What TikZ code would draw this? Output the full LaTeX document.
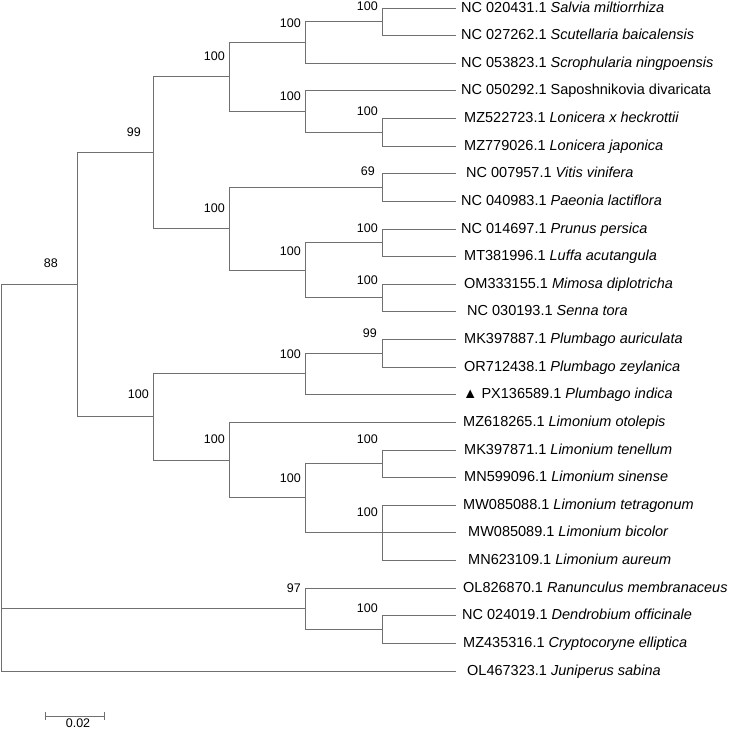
\documentclass[tikz,border=0pt]{standalone}
\usepackage{fontspec}
\setmainfont{Liberation Sans}
\usetikzlibrary{positioning}
\definecolor{branchgray}{RGB}{112,112,112}
\tikzset{
	branch/.style={draw=branchgray, line width=1pt},
	boot/.style={font=\fontsize{12.5}{14}\selectfont, inner sep=0pt},
	taxon/.style={anchor=base west, font=\fontsize{14.5}{16}\selectfont, inner sep=0pt}
}
\begin{document}
\begin{tikzpicture}[x=1pt,y=-1pt]
	\useasboundingbox (0,0) rectangle (729,729);
	% tips
	\coordinate (t1) at (456,8);
	\coordinate (t2) at (456,35);
	\coordinate (t3) at (456,63);
	\coordinate (t4) at (456,90);
	\coordinate (t5) at (456,118);
	\coordinate (t6) at (456,146);
	\coordinate (t7) at (456,173);
	\coordinate (t8) at (456,201);
	\coordinate (t9) at (456,229);
	\coordinate (t10) at (456,256);
	\coordinate (t11) at (456,284);
	\coordinate (t12) at (456,311);
	\coordinate (t13) at (456,339);
	\coordinate (t14) at (456,367);
	\coordinate (t15) at (456,394);
	\coordinate (t16) at (456,422);
	\coordinate (t17) at (456,450);
	\coordinate (t18) at (456,477);
	\coordinate (t19) at (456,505);
	\coordinate (t20) at (456,532);
	\coordinate (t21) at (456,560);
	\coordinate (t22) at (456,588);
	\coordinate (t23) at (456,615);
	\coordinate (t24) at (456,643);
	\coordinate (t25) at (456,671);
	% inner nodes
	\coordinate (root) at (1,284.6);
	\coordinate (n1) at (382,21.5);
	\coordinate (n2) at (305,42.2);
	\coordinate (n3) at (382,132);
	\coordinate (n4) at (305,111);
	\coordinate (n5) at (229,76.6);
	\coordinate (n6) at (382,187);
	\coordinate (n7) at (382,242.5);
	\coordinate (n8) at (382,297.5);
	\coordinate (n9) at (305,270);
	\coordinate (n10) at (229,228.5);
	\coordinate (n11) at (153,152.6);
	\coordinate (n12) at (382,353);
	\coordinate (n13) at (305,373.5);
	\coordinate (n14) at (382,463.5);
	\coordinate (n15) at (382,532);
	\coordinate (n16) at (305,497.8);
	\coordinate (n17) at (229,460);
	\coordinate (n18) at (153,416.7);
	\coordinate (n19) at (77,284.6);
	\coordinate (n20) at (382,629);
	\coordinate (n21) at (305,608);
	% branches
	\draw[branch] (n1) |- (t1);
	\draw[branch] (n1) |- (t2);
	\draw[branch] (n2) |- (n1);
	\draw[branch] (n2) |- (t3);
	\draw[branch] (n3) |- (t5);
	\draw[branch] (n3) |- (t6);
	\draw[branch] (n4) |- (t4);
	\draw[branch] (n4) |- (n3);
	\draw[branch] (n5) |- (n2);
	\draw[branch] (n5) |- (n4);
	\draw[branch] (n6) |- (t7);
	\draw[branch] (n6) |- (t8);
	\draw[branch] (n7) |- (t9);
	\draw[branch] (n7) |- (t10);
	\draw[branch] (n8) |- (t11);
	\draw[branch] (n8) |- (t12);
	\draw[branch] (n9) |- (n7);
	\draw[branch] (n9) |- (n8);
	\draw[branch] (n10) |- (n6);
	\draw[branch] (n10) |- (n9);
	\draw[branch] (n11) |- (n5);
	\draw[branch] (n11) |- (n10);
	\draw[branch] (n12) |- (t13);
	\draw[branch] (n12) |- (t14);
	\draw[branch] (n13) |- (n12);
	\draw[branch] (n13) |- (t15);
	\draw[branch] (n14) |- (t17);
	\draw[branch] (n14) |- (t18);
	\draw[branch] (n15) |- (t19);
	\draw[branch] (n15) |- (t20);
	\draw[branch] (n15) |- (t21);
	\draw[branch] (n16) |- (n14);
	\draw[branch] (n16) |- (n15);
	\draw[branch] (n17) |- (t16);
	\draw[branch] (n17) |- (n16);
	\draw[branch] (n18) |- (n13);
	\draw[branch] (n18) |- (n17);
	\draw[branch] (n19) |- (n11);
	\draw[branch] (n19) |- (n18);
	\draw[branch] (n20) |- (t23);
	\draw[branch] (n20) |- (t24);
	\draw[branch] (n21) |- (t22);
	\draw[branch] (n21) |- (n20);
	\draw[branch] (root) |- (n19);
	\draw[branch] (root) |- (n21);
	\draw[branch] (root) |- (t25);
	% bootstrap values
	\node[boot, above left=11pt and 4pt of n1] (b1) {100};
	\node[boot, above left=14.5pt and 4pt of n2] (b2) {100};
	\node[boot, above left=16.5pt and 4pt of n3] (b3) {100};
	\node[boot, above left=10.5pt and 4pt of n4] (b4) {100};
	\node[boot, above left=16pt and 4pt of n5] (b5) {100};
	\node[boot, above left=11.5pt and 7pt of n6] (b6) {69};
	\node[boot, above left=10pt and 4pt of n7] (b7) {100};
	\node[boot, above left=13pt and 4pt of n8] (b8) {100};
	\node[boot, above left=14.5pt and 4pt of n9] (b9) {100};
	\node[boot, above left=16pt and 4pt of n10] (b10) {100};
	\node[boot, above left=16pt and 12pt of n11] (b11) {99};
	\node[boot, above left=15.5pt and 5pt of n12] (b12) {99};
	\node[boot, above left=15pt and 4pt of n13] (b13) {100};
	\node[boot, above left=20pt and 4pt of n14] (b14) {100};
	\node[boot, above left=15.5pt and 4pt of n15] (b15) {100};
	\node[boot, above left=15pt and 4pt of n16] (b16) {100};
	\node[boot, above left=16.5pt and 4pt of n17] (b17) {100};
	\node[boot, above left=18pt and 4pt of n18] (b18) {100};
	\node[boot, above left=17pt and 19pt of n19] (b19) {88};
	\node[boot, above left=16.5pt and 4pt of n20] (b20) {100};
	\node[boot, above left=15.5pt and 4pt of n21] (b21) {97};
	% taxon names
	\node[taxon] (l1) at ([xshift=5pt,yshift=-4pt]t1) {NC 020431.1 \textit{Salvia miltiorrhiza}};
	\node[taxon] (l2) at ([xshift=5pt,yshift=-4pt]t2) {NC 027262.1 \textit{Scutellaria baicalensis}};
	\node[taxon] (l3) at ([xshift=5pt,yshift=-4pt]t3) {NC 053823.1 \textit{Scrophularia ningpoensis}};
	\node[taxon] (l4) at ([xshift=5pt,yshift=-4pt]t4) {NC 050292.1 Saposhnikovia divaricata};
	\node[taxon] (l5) at ([xshift=8pt,yshift=-4pt]t5) {MZ522723.1 \textit{Lonicera x heckrottii}};
	\node[taxon] (l6) at ([xshift=8pt,yshift=-4pt]t6) {MZ779026.1 \textit{Lonicera japonica}};
	\node[taxon] (l7) at ([xshift=10pt,yshift=-4pt]t7) {NC 007957.1 \textit{Vitis vinifera}};
	\node[taxon] (l8) at ([xshift=5pt,yshift=-4pt]t8) {NC 040983.1 \textit{Paeonia lactiflora}};
	\node[taxon] (l9) at ([xshift=5pt,yshift=-4pt]t9) {NC 014697.1 \textit{Prunus persica}};
	\node[taxon] (l10) at ([xshift=8pt,yshift=-4pt]t10) {MT381996.1 \textit{Luffa acutangula}};
	\node[taxon] (l11) at ([xshift=8pt,yshift=-4pt]t11) {OM333155.1 \textit{Mimosa diplotricha}};
	\node[taxon] (l12) at ([xshift=11pt,yshift=-4pt]t12) {NC 030193.1 \textit{Senna tora}};
	\node[taxon] (l13) at ([xshift=8pt,yshift=-4pt]t13) {MK397887.1 \textit{Plumbago auriculata}};
	\node[taxon] (l14) at ([xshift=8pt,yshift=-4pt]t14) {OR712438.1 \textit{Plumbago zeylanica}};
	\node[taxon] (l15) at ([xshift=7pt,yshift=-4pt]t15) {▲ PX136589.1 \textit{Plumbago indica}};
	\node[taxon] (l16) at ([xshift=7pt,yshift=-4pt]t16) {MZ618265.1 \textit{Limonium otolepis}};
	\node[taxon] (l17) at ([xshift=8pt,yshift=-4pt]t17) {MK397871.1 \textit{Limonium tenellum}};
	\node[taxon] (l18) at ([xshift=8pt,yshift=-4pt]t18) {MN599096.1 \textit{Limonium sinense}};
	\node[taxon] (l19) at ([xshift=7pt,yshift=-4pt]t19) {MW085088.1 \textit{Limonium tetragonum}};
	\node[taxon] (l20) at ([xshift=12pt,yshift=-4pt]t20) {MW085089.1 \textit{Limonium bicolor}};
	\node[taxon] (l21) at ([xshift=12pt,yshift=-4pt]t21) {MN623109.1 \textit{Limonium aureum}};
	\node[taxon] (l22) at ([xshift=7pt,yshift=-4pt]t22) {OL826870.1 \textit{Ranunculus membranaceus}};
	\node[taxon] (l23) at ([xshift=6pt,yshift=-4pt]t23) {NC 024019.1 \textit{Dendrobium officinale}};
	\node[taxon] (l24) at ([xshift=7pt,yshift=-4pt]t24) {MZ435316.1 \textit{Cryptocoryne elliptica}};
	\node[taxon] (l25) at ([xshift=11pt,yshift=-4pt]t25) {OL467323.1 \textit{Juniperus sabina}};
	% scale bar
	\coordinate (s1) at (45,716);
	\coordinate (s2) at (104,716);
	\coordinate (smid) at (78,716);
	\draw[branch] (s1) -- (s2);
	\draw[branch] ([yshift=4pt]s1) -- ([yshift=-4pt]s1);
	\draw[branch] ([yshift=4pt]s2) -- ([yshift=-4pt]s2);
	\node[boot, below=2.5pt of smid] (slbl) {0.02};
\end{tikzpicture}
\end{document}
